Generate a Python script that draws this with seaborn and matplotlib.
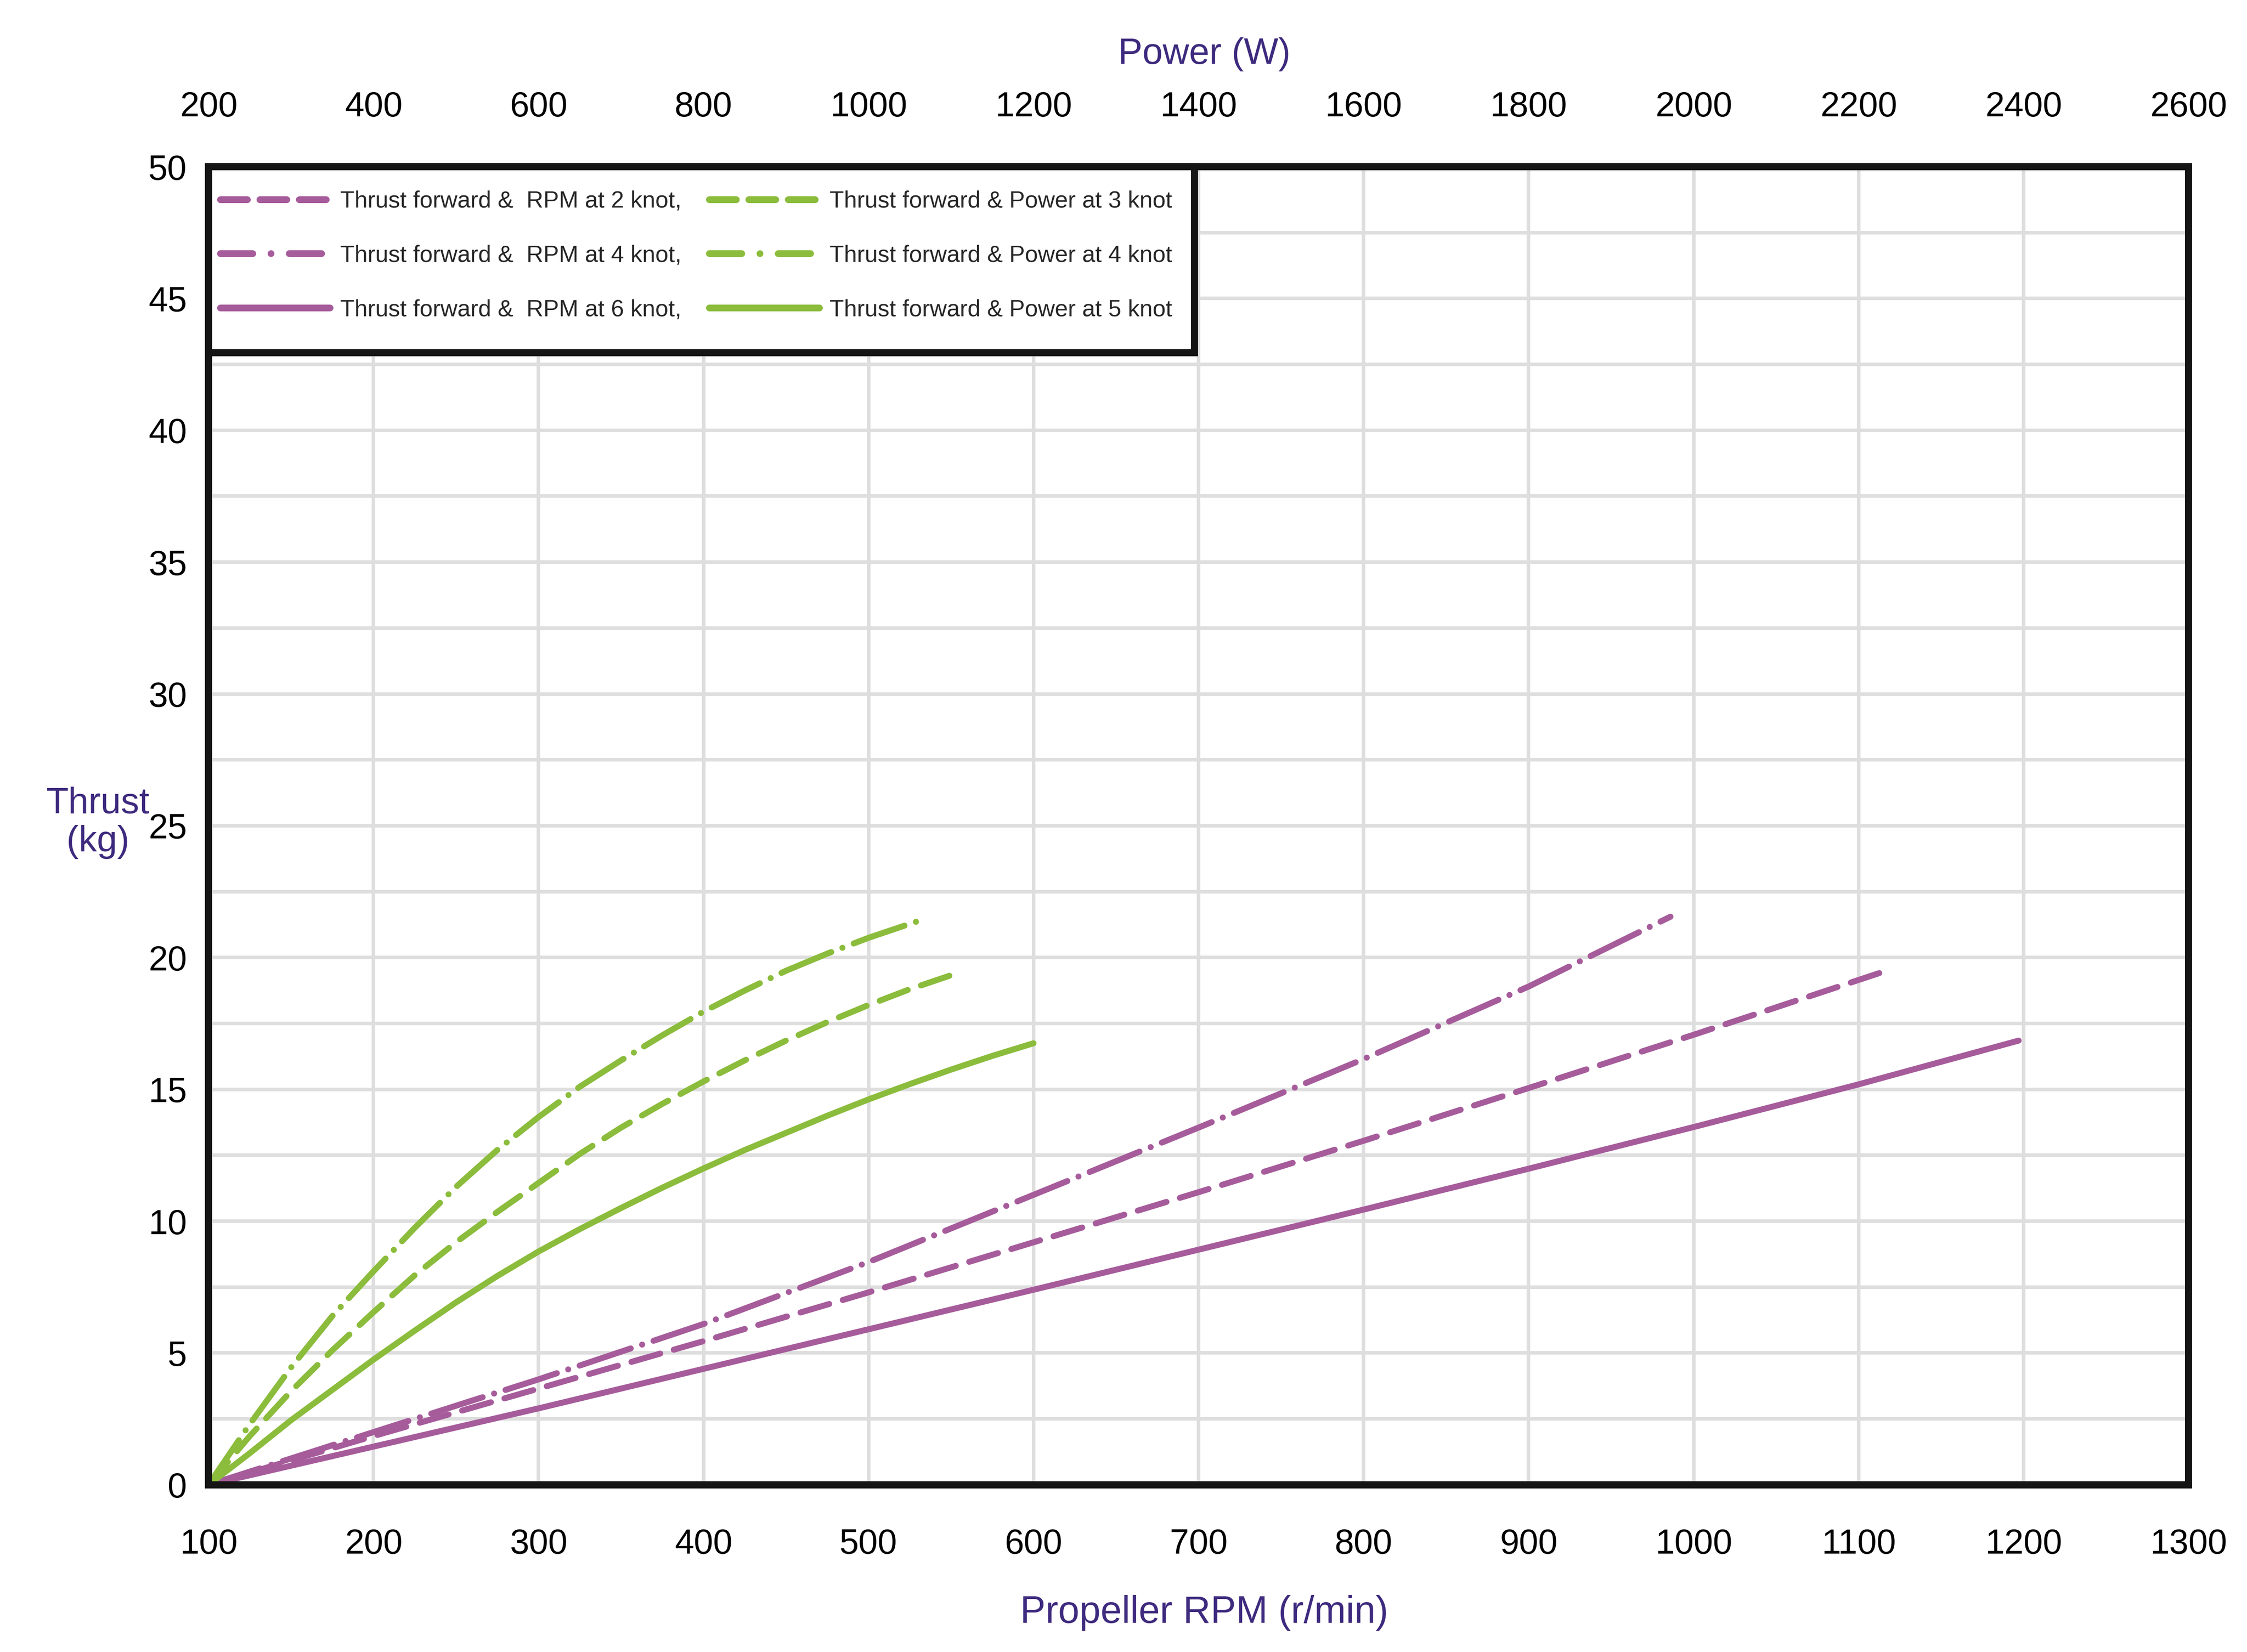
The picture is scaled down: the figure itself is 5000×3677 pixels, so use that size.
import numpy as np
import pandas as pd
import matplotlib
matplotlib.use("Agg")
import matplotlib.pyplot as plt
from matplotlib.lines import Line2D
from matplotlib.patches import Rectangle
import seaborn as sns

# ---------------- data ----------------
rpm_2knot = [100, 200, 300, 400, 500, 600, 700, 800, 900, 1000, 1100, 1113]
thrust_rpm_2knot = [0, 1.85, 3.65, 5.45, 7.3, 9.2, 11.1, 13.05, 15.05, 17.07, 19.15, 19.42]

rpm_4knot = [100, 200, 300, 400, 500, 600, 700, 800, 900, 986]
thrust_rpm_4knot = [0, 2.0, 4.0, 6.1, 8.45, 11.0, 13.55, 16.15, 18.9, 21.55]

rpm_6knot = [100, 200, 300, 400, 500, 600, 700, 800, 900, 1000, 1100, 1197]
thrust_rpm_6knot = [0, 1.45, 2.9, 4.4, 5.9, 7.4, 8.92, 10.44, 11.99, 13.57, 15.19, 16.85]

power_3knot = [200, 250, 300, 350, 400, 450, 500, 550, 600, 650, 700, 750, 800,
               850, 900, 950, 1000, 1050, 1100]
thrust_power_3knot = [0, 1.85, 3.55, 5.1, 6.55, 7.95, 9.2, 10.35, 11.45, 12.55, 13.55,
                      14.45, 15.3, 16.1, 16.85, 17.55, 18.2, 18.8, 19.33]

power_4knot = [200, 250, 300, 350, 400, 450, 500, 550, 600, 650, 700, 750, 800,
               850, 900, 950, 1000, 1071]
thrust_power_4knot = [0, 2.3, 4.45, 6.4, 8.1, 9.75, 11.3, 12.7, 13.95, 15.1, 16.1,
                      17.05, 17.95, 18.75, 19.5, 20.15, 20.75, 21.5]

power_5knot = [200, 250, 300, 350, 400, 450, 500, 550, 600, 650, 700, 750, 800,
               850, 900, 950, 1000, 1050, 1100, 1150, 1200]
thrust_power_5knot = [0, 1.2, 2.45, 3.6, 4.75, 5.85, 6.92, 7.92, 8.85, 9.7, 10.5,
                      11.27, 12.0, 12.7, 13.35, 14.0, 14.62, 15.2, 15.75, 16.27, 16.75]

rpm_ticks = list(range(100, 1301, 100))
power_ticks = list(range(200, 2601, 200))
thrust_ticks = list(range(0, 51, 5))

labels_rpm = ["Thrust forward &  RPM at 2 knot,",
              "Thrust forward &  RPM at 4 knot,",
              "Thrust forward &  RPM at 6 knot,"]
labels_power = ["Thrust forward & Power at 3 knot",
                "Thrust forward & Power at 4 knot",
                "Thrust forward & Power at 5 knot"]

# ---------------- style ----------------
PURPLE = "#a65c9b"
GREEN = "#8bbc3c"
INDIGO = "#3e2a7e"
SPINE = "#151515"
GRID = "#dedede"
LW = 3.2
DASHED = (5.0, 2.35)
DASHDOT = (9.0, 2.0, 0.01, 2.0)

sns.set_style("white")
plt.rcParams["font.family"] = ["Liberation Sans", "DejaVu Sans"]

fig = plt.figure(figsize=(5000 / 300, 3677 / 300), dpi=300)
ax = fig.add_axes([0.0928, 0.1012, 0.974 - 0.0928, 0.8991 - 0.1012])
ax2 = ax.twiny()


def draw(axis, x, y, color, dashes):
    sns.lineplot(x=x, y=y, ax=axis, color=color, linewidth=LW, estimator=None,
                 sort=False, legend=False)
    line = axis.lines[-1]
    if dashes is None:
        line.set_linestyle("-")
    else:
        line.set_dashes(dashes)
    line.set_dash_capstyle("round")
    line.set_solid_capstyle("round")
    line.set_solid_joinstyle("round")
    line.set_dash_joinstyle("round")
    return line


draw(ax, rpm_6knot, thrust_rpm_6knot, PURPLE, None)
draw(ax, rpm_2knot, thrust_rpm_2knot, PURPLE, DASHED)
draw(ax, rpm_4knot, thrust_rpm_4knot, PURPLE, DASHDOT)
draw(ax2, power_5knot, thrust_power_5knot, GREEN, None)
draw(ax2, power_3knot, thrust_power_3knot, GREEN, DASHED)
draw(ax2, power_4knot, thrust_power_4knot, GREEN, DASHDOT)

# axes limits / ticks
ax.set_xlim(100, 1300)
ax.set_ylim(0, 50)
ax2.set_xlim(200, 2600)
ax2.set_ylim(0, 50)
ax.set_xticks(rpm_ticks)
ax2.set_xticks(power_ticks)
ax.set_yticks(thrust_ticks)
ax.set_yticks(np.arange(0, 50.01, 2.5), minor=True)
ax.set_xlabel("")
ax.set_ylabel("")
ax2.set_xlabel("")
ax2.set_ylabel("")

ax.grid(True, which="major", axis="x", color=GRID, linewidth=1.9)
ax.grid(True, which="both", axis="y", color=GRID, linewidth=1.9)
ax2.grid(False)
ax.set_axisbelow(True)

ax.tick_params(axis="x", which="both", length=0, pad=23, labelsize=18.5, colors="black")
ax.tick_params(axis="y", which="both", length=0, pad=11.5, labelsize=18.5, colors="black")
ax2.tick_params(axis="x", which="both", length=0, pad=23, labelsize=18.5, colors="black")

for a in (ax, ax2):
    for s in a.spines.values():
        s.set_color(SPINE)
        s.set_linewidth(3.8)
        s.set_capstyle("projecting")

# axis titles
fig.text(0.536, 0.967, "Power (W)", ha="center", va="center", fontsize=19.5, color=INDIGO)
fig.text(0.536, 0.0237, "Propeller RPM (r/min)", ha="center", va="center", fontsize=20.3, color=INDIGO)
fig.text(0.0435, 0.502, "Thrust\n(kg)", ha="center", va="center", fontsize=19.5,
         color=INDIGO, multialignment="center", linespacing=1.15)

# legend box
box = Rectangle((0, 0.859), 0.498, 0.141, transform=ax2.transAxes, facecolor="white",
                edgecolor=SPINE, linewidth=3.8, zorder=5, clip_on=False)
ax2.add_patch(box)

LEG_LW = 3.6
LEG_DASHED = (4.0, 1.85)
LEG_DASHDOT = (4.8, 2.7, 0.01, 2.7)
handles = [
    Line2D([], [], color=PURPLE, lw=LEG_LW, dashes=LEG_DASHED, dash_capstyle="round"),
    Line2D([], [], color=PURPLE, lw=LEG_LW, dashes=LEG_DASHDOT, dash_capstyle="round"),
    Line2D([], [], color=PURPLE, lw=LEG_LW, solid_capstyle="round"),
    Line2D([], [], color=GREEN, lw=LEG_LW, dashes=LEG_DASHED, dash_capstyle="round"),
    Line2D([], [], color=GREEN, lw=LEG_LW, dashes=LEG_DASHDOT, dash_capstyle="round"),
    Line2D([], [], color=GREEN, lw=LEG_LW, solid_capstyle="round"),
]
leg = ax2.legend(handles=handles, labels=labels_rpm + labels_power, ncol=2,
                 loc="upper left", bbox_to_anchor=(0.0058, 0.982),
                 bbox_transform=ax2.transAxes, borderpad=0, borderaxespad=0,
                 frameon=False, handlelength=4.7, handletextpad=0.43,
                 columnspacing=1.2, labelspacing=1.38,
                 prop={"family": "Liberation Sans", "size": 12.5})
leg.set_zorder(6)

fig.savefig("out.png", dpi=300, facecolor="white")
